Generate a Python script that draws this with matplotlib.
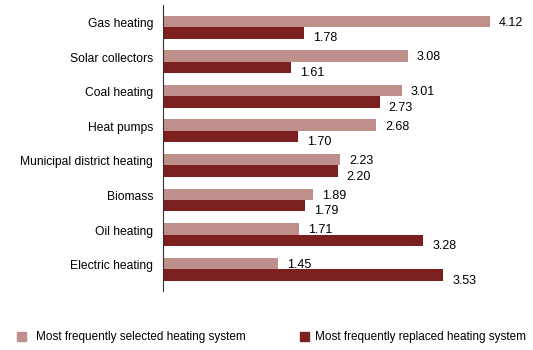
import matplotlib
matplotlib.use("Agg")
import matplotlib.pyplot as plt
from matplotlib.patches import Rectangle
import numpy as np

# data
categories = ["Gas heating", "Solar collectors", "Coal heating", "Heat pumps",
              "Municipal district heating", "Biomass", "Oil heating", "Electric heating"]
selected = [4.12, 3.08, 3.01, 2.68, 2.23, 1.89, 1.71, 1.45]
replaced = [1.78, 1.61, 2.73, 1.70, 2.20, 1.79, 3.28, 3.53]
series_names = ["Most frequently selected heating system",
                "Most frequently replaced heating system"]

light = "#BF8F8C"
dark = "#7B1F1F"

plt.rcParams["font.family"] = ["Liberation Sans", "DejaVu Sans"]
plt.rcParams["font.size"] = 8

W, H = 533, 350
fig = plt.figure(figsize=(W / 100, H / 100), dpi=100)
# axes placed in pixel terms
left, right, top, bottom = 163, 528, 5, 290.7
ax = fig.add_axes([left / W, (H - bottom) / H, (right - left) / W, (bottom - top) / H])

y = np.arange(len(categories))
h = 0.33
ax.barh(y - h / 2, selected, height=h, color=light)
ax.barh(y + h / 2, replaced, height=h, color=dark)

xmax = (right - left) / 79.4
ax.set_xlim(0, xmax)
ax.set_ylim(7.62, -0.64)

for i in range(len(categories)):
    ax.annotate("%.2f" % selected[i], (selected[i], y[i] - h / 2), xytext=(6.5, -1),
                textcoords="offset points", va="center", ha="left", fontsize=9)
    ax.annotate("%.2f" % replaced[i], (replaced[i], y[i] + h / 2), xytext=(6.5, -4),
                textcoords="offset points", va="center", ha="left", fontsize=9)

# category labels sit level with the upper bar
ax.set_yticks(y - 0.13)
ax.set_yticklabels(categories, fontsize=8.7)
ax.tick_params(axis="y", length=0, pad=7)
ax.set_xticks([])
for s in ["top", "right", "bottom"]:
    ax.spines[s].set_visible(False)
ax.spines["left"].set_color("#333333")
ax.spines["left"].set_linewidth(0.8)

# legend drawn by hand
for x0, tx, col, name in [(17, 36, light, series_names[0]), (300, 315, dark, series_names[1])]:
    fig.add_artist(Rectangle((x0 / W, (H - 341) / H), 9 / W, 9 / H,
                             transform=fig.transFigure, color=col))
    fig.text(tx / W, (H - 337) / H, name, va="center", ha="left", fontsize=8.5)

fig.savefig("out.png", dpi=100)
